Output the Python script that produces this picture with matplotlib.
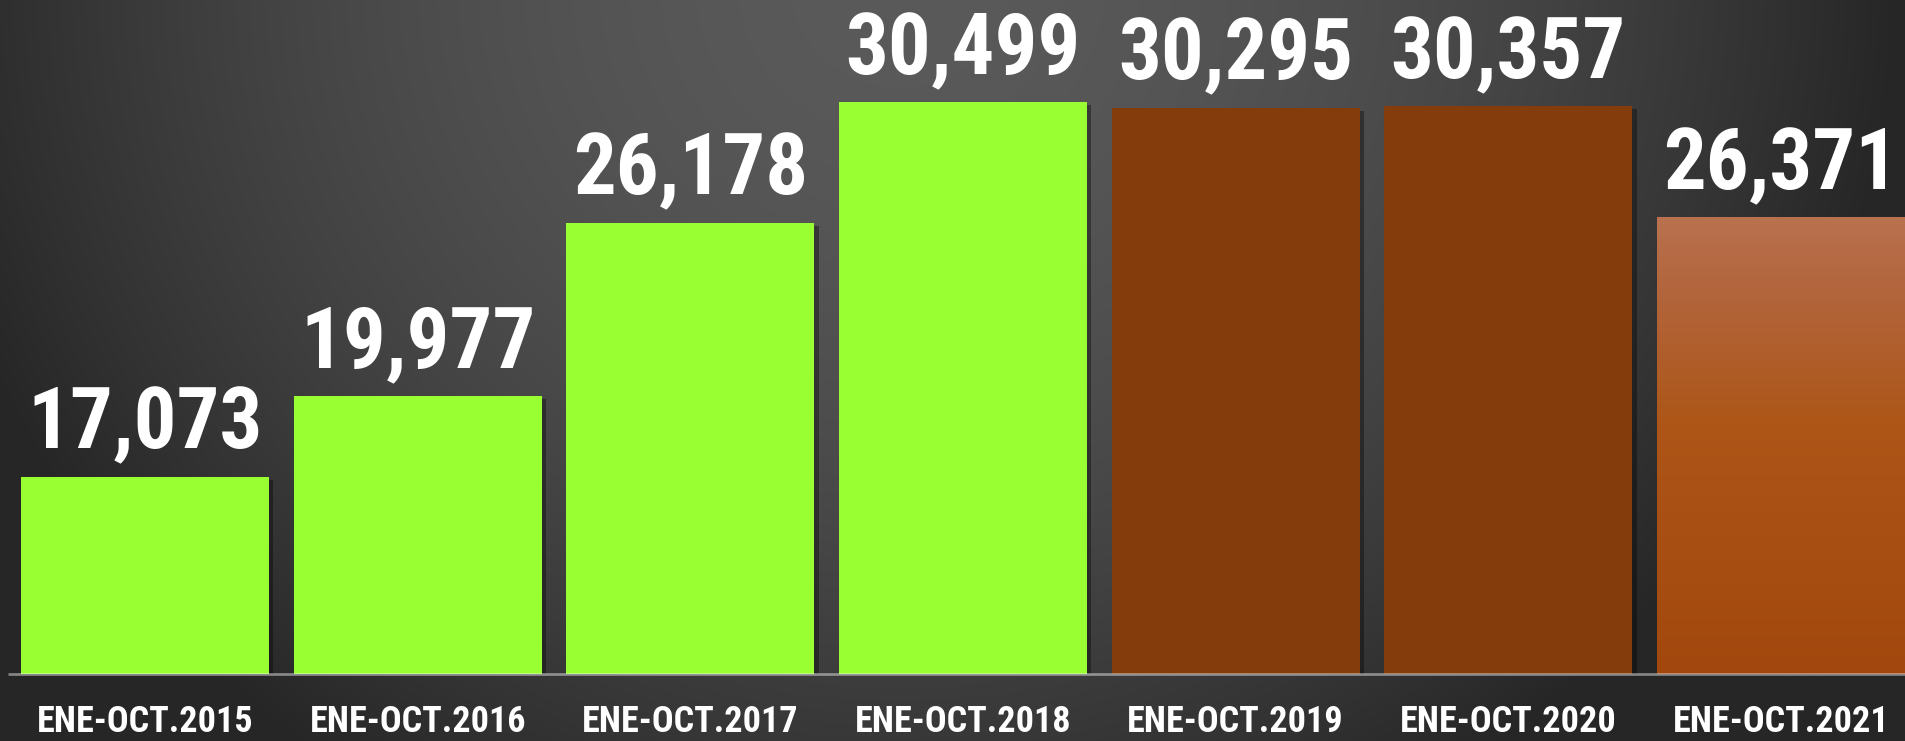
import numpy as np
import matplotlib
matplotlib.use('Agg')
import matplotlib.pyplot as plt
from matplotlib.colors import LinearSegmentedColormap
import matplotlib.patheffects as pe

# data
periods = ['ENE-OCT.2015', 'ENE-OCT.2016', 'ENE-OCT.2017', 'ENE-OCT.2018',
           'ENE-OCT.2019', 'ENE-OCT.2020', 'ENE-OCT.2021']
values = [17073, 19977, 26178, 30499, 30295, 30357, 26371]
bar_colors = ['#99ff33', '#99ff33', '#99ff33', '#99ff33', '#843c0c', '#843c0c', None]

# narrow bold face, close to Arial Narrow
plt.rcParams['font.family'] = ['Roboto Condensed', 'Liberation Sans Narrow', 'Liberation Sans', 'DejaVu Sans']

W, H = 1905, 741
fig = plt.figure(figsize=(W / 100, H / 100), dpi=100)

# radial-ish dark background
bg = fig.add_axes([0, 0, 1, 1], zorder=0)
yy, xx = np.mgrid[0:H, 0:W]
r = np.sqrt(((xx - 900) / 1000.0) ** 2 + ((yy + 20) / 960.0) ** 2)
f = np.clip(r, 0, 1) ** 1.8
shade = (90 - 52 * f) / 255.0
bg.imshow(np.dstack([shade] * 3), aspect='auto', extent=(0, 1, 0, 1), interpolation='bilinear')
bg.set_axis_off()

ax = fig.add_axes([0, 67 / H, 1, 674 / H], zorder=1)
ax.set_facecolor('none')
x = np.arange(len(values))
width = 0.9095
ymin, ymax = 10000, 34170

shadow = [pe.SimplePatchShadow(offset=(3, -2), shadow_rgbFace='black', alpha=0.35), pe.Normal()]
bars = ax.bar(x, [v - ymin for v in values], width, bottom=ymin,
              color=[c if c else '#a54b10' for c in bar_colors], zorder=2)
for b in bars:
    b.set_path_effects(shadow)

# gradient fill for the last bar
grad_cmap = LinearSegmentedColormap.from_list(
    'g', [(0, '#a2480e'), (0.55, '#ad5618'), (0.82, '#b2643a'), (1.0, '#b9714f')])
last = bars[-1]
grad = np.linspace(0, 1, 256).reshape(-1, 1)
im = ax.imshow(grad, cmap=grad_cmap, origin='lower', aspect='auto', zorder=3,
               extent=(x[-1] - width / 2, x[-1] + width / 2, ymin, values[-1]))
im.set_clip_path(last)

# baseline
ax.plot([-0.502, 6.6], [ymin, ymin], color='white', alpha=0.45, lw=1.9,
        solid_capstyle='butt', clip_on=False, zorder=4)

for xi, v in zip(x, values):
    ax.annotate(f'{v:,}', (xi, v), xytext=(0, 20.5), textcoords='offset points',
                ha='center', va='baseline', color='white', fontsize=61,
                fontweight='bold', zorder=5)

ax.set_xlim(-0.5318, 6.4547)
ax.set_ylim(ymin, ymax)
ax.set_xticks(x)
ax.set_xticklabels(periods, fontsize=26, fontweight='bold', color='white', va='baseline')
ax.tick_params(axis='x', length=0, pad=41.8)
ax.set_yticks([])
for s in ax.spines.values():
    s.set_visible(False)

fig.savefig('out.png', dpi=100)
